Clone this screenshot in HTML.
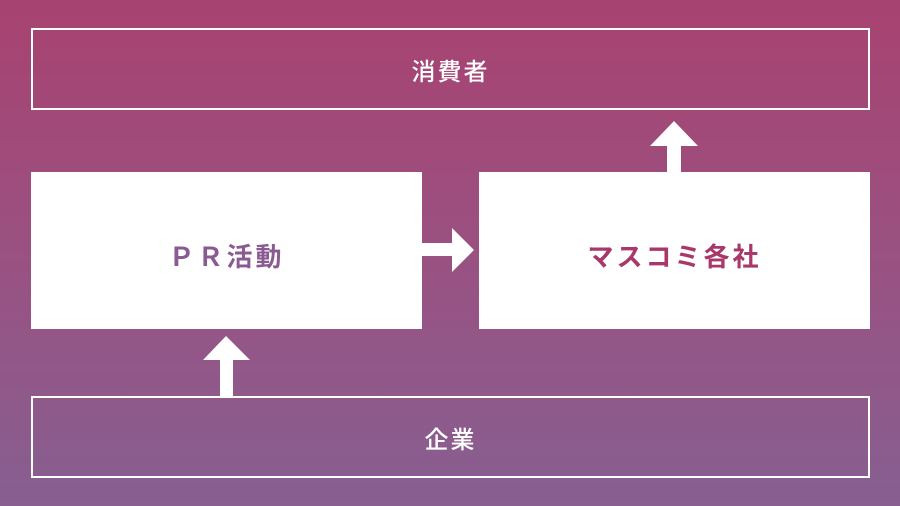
<!DOCTYPE html>
<html><head><meta charset="utf-8"><style>
body{margin:0}
#c{position:relative;width:900px;height:506px;overflow:hidden;background:linear-gradient(180deg,#a84270 0%,#9b5080 45%,#875f91 100%);font-family:"Liberation Sans","Noto Sans CJK JP",sans-serif;}
.b{position:absolute;box-sizing:border-box;display:flex;align-items:center;justify-content:center;font-weight:bold}
.o{border:2px solid #fff;color:#fff;font-size:24px;letter-spacing:2px;font-weight:500}
.w{background:#fff;font-size:26px;letter-spacing:3px;padding-top:10px}
</style></head><body><div id="c">
<div class="b o" style="left:31px;top:28px;width:839px;height:82px">消費者</div>
<div class="b w" style="left:31px;top:172px;width:391px;height:157px;color:#8a5a92">ＰＲ活動</div>
<div class="b w" style="left:479px;top:172px;width:391px;height:157px;color:#a8386a">マスコミ各社</div>
<div class="b o" style="left:31px;top:396px;width:839px;height:82px">企業</div>
<svg width="900" height="506" style="position:absolute;left:0;top:0">
<polygon fill="#fff" points="421,243 452,243 452,228 474,250 452,272 452,256 421,256"/>
<polygon fill="#fff" points="220,396 220,360 203,360 226,336 250,360 233,360 233,396"/>
<polygon fill="#fff" points="667,172 667,146 650,146 674,121 698,146 681,146 681,172"/>
</svg>
</div></body></html>
